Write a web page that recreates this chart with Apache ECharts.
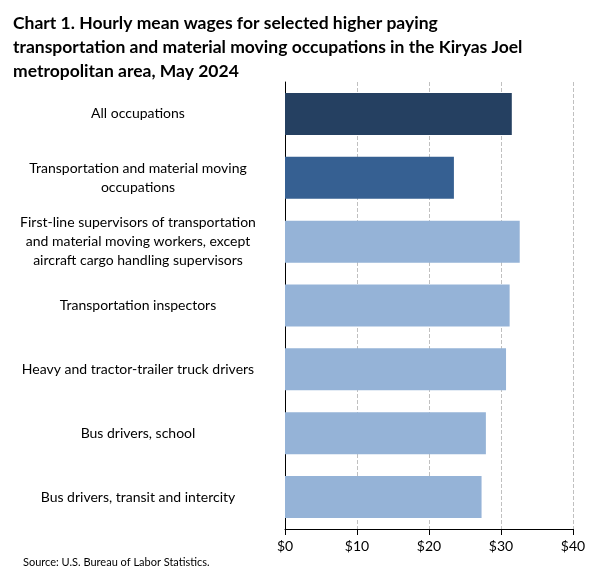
<!DOCTYPE html><html><head><meta charset="utf-8"><script src="https://cdn.jsdelivr.net/npm/echarts@6/dist/echarts.min.js"></script></head><body style="margin:0"><div id="c" style="width:601px;height:577px"></div><script>
const categories=["All occupations","Transportation and material moving\noccupations","First-line supervisors of transportation\nand material moving workers, except\naircraft cargo handling supervisors","Transportation inspectors","Heavy and tractor-trailer truck drivers","Bus drivers, school","Bus drivers, transit and intercity"];
const values=[31.5,23.46,32.6,31.2,30.7,27.9,27.3];
const colors=["#254061","#366092","#95b3d7","#95b3d7","#95b3d7","#95b3d7","#95b3d7"];
const ticks=[0,10,20,30,40];
const f="Lato, 'Open Sans', sans-serif";
const c=echarts.init(document.getElementById('c'));
c.setOption({animation:false,textStyle:{fontFamily:f},
title:[{text:"Chart 1. Hourly mean wages for selected higher paying\ntransportation and material moving occupations in the Kiryas Joel\nmetropolitan area, May 2024",left:8,top:6,textStyle:{fontSize:17.5,fontWeight:'bold',color:'#000',lineHeight:24,fontFamily:f}},
{text:"Source: U.S. Bureau of Labor Statistics.",left:18,bottom:4,textStyle:{fontSize:11,fontWeight:'normal',color:'#000',fontFamily:f}}],
grid:{left:285,right:28,top:82,bottom:48},
xAxis:{type:'value',min:0,max:40,interval:10,axisLine:{show:true,lineStyle:{color:'#000'}},axisTick:{show:true,length:6,lineStyle:{color:'#000'}},axisLabel:{formatter:v=>'$'+v,fontSize:14,color:'#000',margin:10},splitLine:{lineStyle:{type:'dashed',color:'#c0c0c0'}}},
yAxis:{type:'category',inverse:true,data:categories,axisLine:{lineStyle:{color:'#000'}},axisTick:{show:false},axisLabel:{fontSize:14,color:'#000',lineHeight:19,margin:147,align:'center'}},
series:[{type:'bar',barWidth:42,data:values.map((v,i)=>({value:v,itemStyle:{color:colors[i]}}))}]});
</script></body></html>
